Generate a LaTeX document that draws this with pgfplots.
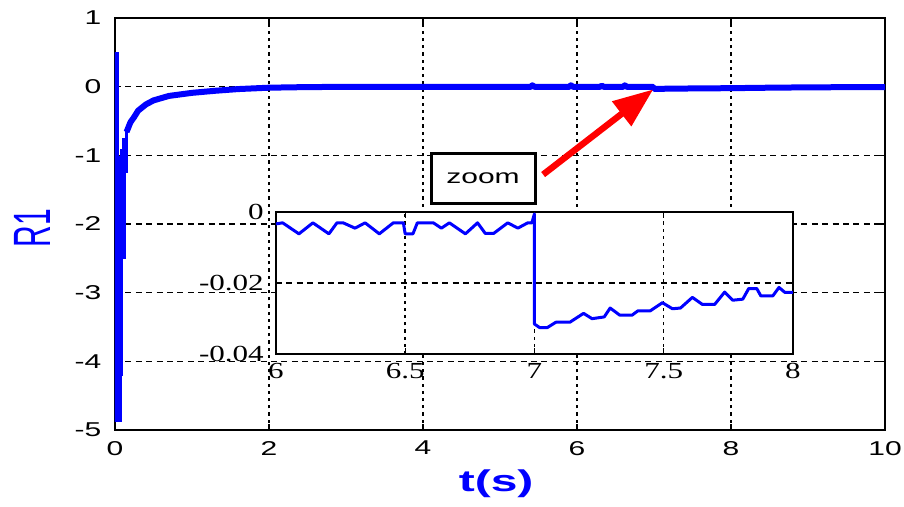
\documentclass[border=0pt]{standalone}
\usepackage{pgfplots}
\pgfplotsset{compat=1.18}
\usetikzlibrary{arrows.meta, calc}
\usepackage{fontspec}
\setmainfont{Liberation Sans}
\newfontfamily\serifnum{Liberation Serif}

\begin{document}
\begin{tikzpicture}
\begin{axis}[
    name=main,
    scale only axis,
    width=385pt,
    height=206pt,
    xmin=0, xmax=10,
    ymin=-5, ymax=1,
    xtick={0,2,...,10},
    ytick={-5,-4,...,1},
    tick align=inside,
    major tick length=3pt,
    axis line style={line width=0.8pt},
    every tick/.style={black, line width=0.6pt},
    /pgf/number format/assume math mode=true,
    tick label style={font=\fontsize{10}{12}\selectfont, xscale=1.5},
    xticklabel style={yshift=-2pt},
    yticklabel style={xshift=-1pt},
    grid=major,
    x grid style={black, line width=0.8pt, dash pattern=on 1.6pt off 2pt},
    y grid style={black, line width=0.8pt, dash pattern=on 3pt off 2.2pt},
    every axis y label/.style={at={(axis description cs:-0.107,0.49)}, anchor=center, rotate=90},
    every axis x label/.style={at={(axis description cs:0.495,-0.131)}, anchor=center},
    ylabel={\color{blue}\fontsize{15}{18}\selectfont\scalebox{1}[1.75]{R1}},
    xlabel={\color{blue}\fontsize{15}{18}\selectfont\bfseries\scalebox{1.6}[1]{t(s)}},
]
% chattering band at the start (envelope of the fast switching)
\addplot[blue, fill=blue, line width=0.6pt] coordinates {
    (0,0.5) (0.04,0.5) (0.04,-1.02) (0.078,-1.02) (0.078,-0.92) (0.1,-0.92)
    (0.1,-0.75) (0.135,-0.75) (0.135,-0.61) (0.166,-0.61) (0.166,-1.25)
    (0.135,-1.25) (0.135,-2.5) (0.1,-2.5) (0.1,-4.2) (0.078,-4.2)
    (0.078,-4.88) (0,-4.88) (0,0.5)
};
\addplot[blue, line width=3pt, line join=round] coordinates {
    (0.15,-0.66) (0.2,-0.52) (0.25,-0.44) (0.3,-0.35) (0.4,-0.26) (0.5,-0.2)
    (0.7,-0.135) (1.0,-0.09) (1.3,-0.06) (1.6,-0.035) (2.0,-0.015) (2.5,-0.006)
    (3.0,-0.003)
    (5.4,-0.003) (5.42,0.02) (5.45,-0.003) (5.9,-0.003) (5.92,0.02) (5.95,-0.003)
    (6.3,-0.003) (6.32,0.015) (6.35,-0.003) (6.6,-0.003) (6.62,0.02) (6.65,-0.003)
    (6.99,-0.003) (7.0,-0.032) (7.5,-0.026) (8.0,-0.022) (8.5,-0.015) (9.0,-0.01)
    (10,-0.005)
};
\coordinate (sw) at (rel axis cs:0,0);
\coordinate (ne) at (rel axis cs:1,1);
\coordinate (insetpos) at (rel axis cs:0.209,0.184);
\node[draw=black, line width=1.5pt, minimum width=52pt, minimum height=25pt,
      fill=white, font=\fontsize{10}{12}\selectfont]
      at (axis cs:4.78,-1.34) {\scalebox{1.5}[1]{zoom}};
\draw[red, line width=3.2pt, -{Triangle[length=20pt,width=15pt]}]
      (axis cs:5.56,-1.28) -- (axis cs:6.99,-0.04);
\end{axis}

\begin{axis}[
    at={(insetpos)}, anchor=south west,
    scale only axis,
    width=258.5pt,
    height=71pt,
    xmin=6, xmax=8,
    ymin=-0.04, ymax=0,
    xtick={6,6.5,...,8},
    ytick={-0.04,-0.02,0},
    scaled y ticks=false,
    yticklabel style={/pgf/number format/fixed, /pgf/number format/precision=2, xshift=-1pt},
    xticklabel style={yshift=-1pt},
    tick align=inside,
    major tick length=3pt,
    axis line style={line width=0.8pt},
    every tick/.style={black, line width=0.6pt},
    axis background/.style={fill=white},
    /pgf/number format/assume math mode=true,
    tick label style={font=\serifnum\fontsize{11.5}{13}\selectfont, xscale=1.35},
    grid=major,
    x grid style={black, line width=0.8pt, dash pattern=on 1.6pt off 2pt},
    y grid style={black, line width=0.8pt, dash pattern=on 3pt off 2.2pt},
]
\addplot[blue, line width=1.5pt, line join=round] coordinates {
    (6.0,-0.0033) (6.026,-0.003) (6.089,-0.0061) (6.143,-0.003) (6.205,-0.0061)
    (6.236,-0.003) (6.26,-0.003) (6.306,-0.0045) (6.345,-0.003) (6.40,-0.0061)
    (6.454,-0.003) (6.493,-0.003) (6.50,-0.0061) (6.53,-0.0061) (6.547,-0.003)
    (6.609,-0.003) (6.64,-0.0045) (6.671,-0.003) (6.733,-0.0061) (6.78,-0.003)
    (6.81,-0.006) (6.842,-0.006) (6.897,-0.003) (6.936,-0.0045) (6.974,-0.003)
    (6.99,-0.003) (7.0,-0.0005) (7.0,-0.0315) (7.02,-0.0325) (7.05,-0.0325)
    (7.083,-0.031) (7.137,-0.031) (7.19,-0.0285) (7.223,-0.030) (7.27,-0.0295)
    (7.293,-0.027) (7.33,-0.029) (7.378,-0.029) (7.40,-0.0278) (7.448,-0.0278)
    (7.495,-0.0255) (7.534,-0.0272) (7.565,-0.027) (7.611,-0.024) (7.65,-0.026)
    (7.697,-0.026) (7.736,-0.0225) (7.767,-0.0248) (7.806,-0.0245) (7.829,-0.0215)
    (7.86,-0.0215) (7.876,-0.0236) (7.922,-0.0236) (7.946,-0.0212) (7.969,-0.0226)
    (8.0,-0.0226)
};
\end{axis}

\pgfresetboundingbox
\path[use as bounding box] ($(sw)+(-57.5pt,-38.5pt)$) rectangle ($(ne)+(9.5pt,9pt)$);
\end{tikzpicture}
\end{document}
